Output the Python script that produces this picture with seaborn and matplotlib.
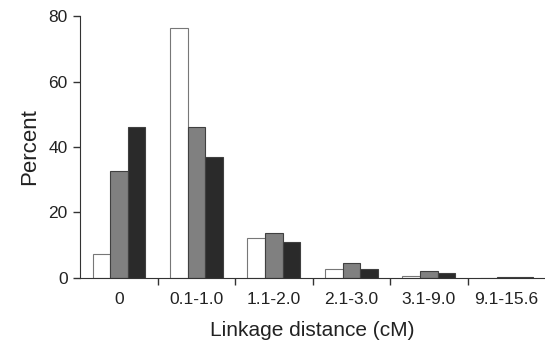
import numpy as np
import pandas as pd
from matplotlib import pyplot as plt
from matplotlib.ticker import FixedLocator
import seaborn as sns

# categorias de distancia y los tres grupos (blanco, gris, negro)
categorias = ['0', '0.1-1.0', '1.1-2.0', '2.1-3.0', '3.1-9.0', '9.1-15.6']
grupo_a = [7.3, 76.3, 12.1, 2.6, 0.7, 0.1]
grupo_b = [32.7, 46.2, 13.8, 4.5, 2.0, 0.2]
grupo_c = [46.1, 36.9, 11.1, 2.8, 1.5, 0.4]
grupos = ['A', 'B', 'C']

df = pd.DataFrame({
    'distancia': categorias * 3,
    'percent': grupo_a + grupo_b + grupo_c,
    'grupo': [g for g in grupos for _ in categorias],
})

sns.set_style('white')
plt.rcParams['font.family'] = ['Liberation Sans', 'DejaVu Sans']

fig = plt.figure(figsize=(5.45, 3.43), dpi=100)
ax = fig.add_axes([0.147, 0.19, 0.853, 0.763])

sns.barplot(data=df, x='distancia', y='percent', hue='grupo', order=categorias,
            palette=['white', '#808080', '#2a2a2a'], edgecolor='#404040',
            linewidth=0.8, width=0.68, errorbar=None, legend=False, ax=ax)
# las barras blancas tienen el borde mas claro
for p in ax.containers[0]:
    p.set_edgecolor('#777777')

ax.set_ylim(0, 80)
ax.set_xlim(-0.5, len(categorias) - 0.5)
ax.set_yticks([0, 20, 40, 60, 80])
ax.xaxis.set_minor_locator(FixedLocator(np.arange(0.5, len(categorias) - 1, 1)))
ax.tick_params(axis='x', which='major', length=0, pad=10, labelsize=12.5, colors='#222222')
ax.tick_params(axis='x', which='minor', bottom=True, length=5, width=1, direction='out', color='#333333')
ax.tick_params(axis='y', left=True, length=5, width=1, direction='out', labelsize=12.5,
               color='#333333', labelcolor='#222222', pad=4)
sns.despine(ax=ax, top=True, right=True)
ax.spines['left'].set_color('#333333')
ax.spines['bottom'].set_color('#333333')
ax.set_xlabel('Linkage distance (cM)', fontsize=15, color='#222222', labelpad=10)
ax.set_ylabel('Percent', fontsize=16, color='#222222', labelpad=6)

plt.savefig('out.png', dpi=100)
